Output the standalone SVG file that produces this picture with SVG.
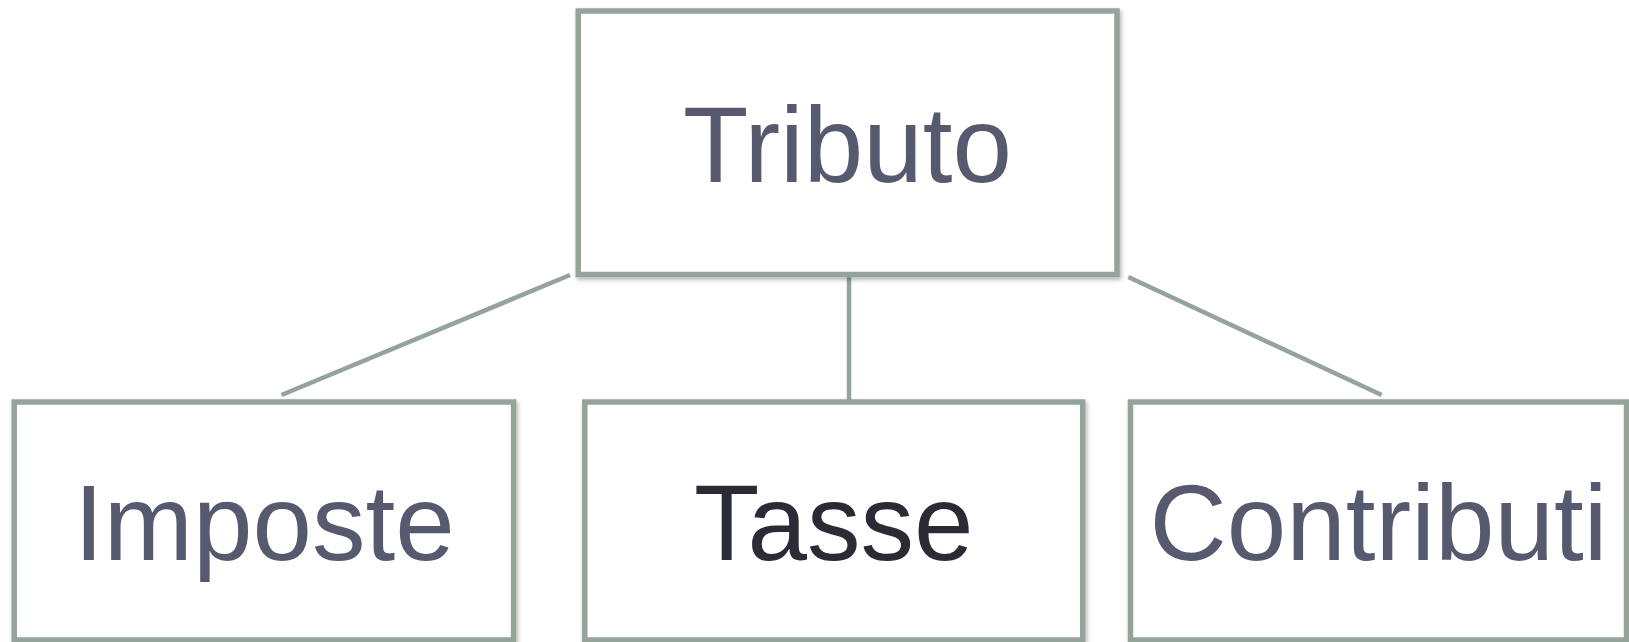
<svg xmlns="http://www.w3.org/2000/svg" width="1629" height="642" viewBox="0 0 1629 642">
<style>
.box{fill:#ffffff;stroke:#94a49a;stroke-width:5.5;filter:url(#sh);}
.lbl{font-family:"Liberation Sans",Arial,sans-serif;font-size:107px;fill:#575a6e;text-anchor:middle;}
.dark{fill:#2b2b35;}
.conn{stroke:#94a49a;stroke-width:4.5;fill:none;}
</style>
<defs>
<filter id="sh" x="-5%" y="-5%" width="110%" height="115%">
<feDropShadow dx="1.5" dy="2.5" stdDeviation="2" flood-color="#000000" flood-opacity="0.3"/>
</filter>
</defs>
<rect width="1629" height="642" fill="#ffffff"/>
<g id="connectors">
<line class="conn" x1="570" y1="275" x2="281.5" y2="395"/>
<line class="conn" x1="849" y1="272" x2="849" y2="400"/>
<line class="conn" x1="1128.3" y1="277" x2="1381.7" y2="395"/>
</g>
<g id="tributo">
<rect class="box" x="578.3" y="11" width="538.7" height="263.5"/>
<text class="lbl" x="847.6" y="181.5">Tributo</text>
</g>
<g id="imposte">
<rect class="box" x="14.2" y="402" width="499.4" height="238"/>
<text class="lbl" x="264.4" y="559.5">Imposte</text>
</g>
<g id="tasse">
<rect class="box" x="584.8" y="402" width="497.9" height="238"/>
<text class="lbl dark" x="833.7" y="559.5">Tasse</text>
</g>
<g id="contributi">
<rect class="box" x="1130.5" y="402" width="496" height="238"/>
<text class="lbl" x="1378.5" y="559.5">Contributi</text>
</g>
</svg>
